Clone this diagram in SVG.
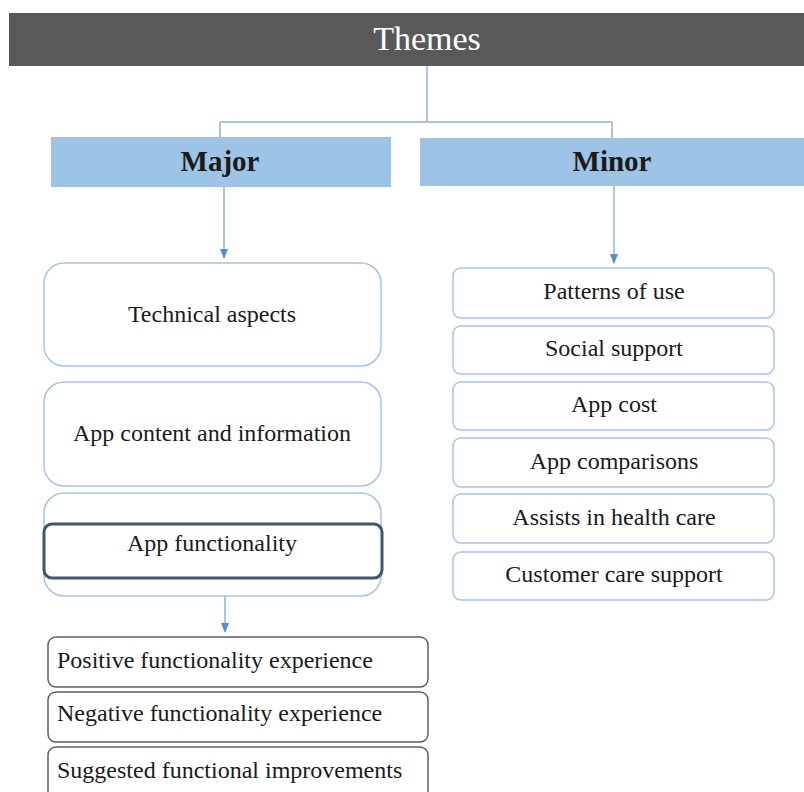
<svg xmlns="http://www.w3.org/2000/svg" width="804" height="792" viewBox="0 0 804 792">
<style>
text{font-family:"Liberation Serif","Times New Roman",serif;fill:#1a1a1a;font-size:24px}
.c{text-anchor:middle}
.title{fill:#ffffff;font-size:34px}
.hdr{font-weight:bold;font-size:29px}
.lb{fill:#ffffff;stroke:#a7c4e5;stroke-width:1.5}
.dk{fill:#ffffff;stroke:#5a5f66;stroke-width:1.5}
.con{fill:none;stroke:#8fb3d9;stroke-width:1.5}
</style>
<defs>
<marker id="ah" viewBox="0 0 10 10" refX="9" refY="5" markerWidth="7" markerHeight="7" orient="auto">
<path d="M0,1 L10,5 L0,9 z" fill="#5b8ec9"/>
</marker>
</defs>
<rect width="804" height="792" fill="#ffffff"/>
<g id="themes">
<rect x="9" y="13" width="795" height="53" fill="#595959"/>
<text class="c title" x="427" y="50">Themes</text>
</g>
<g id="connectors">
<path class="con" d="M427,66 V122 M220,122 H612 M220,122 V137 M612,122 V138"/>
<path class="con" d="M224,187 V258" marker-end="url(#ah)"/>
<path class="con" d="M614,186 V263" marker-end="url(#ah)"/>
<path class="con" d="M225,579 V632" marker-end="url(#ah)"/>
</g>
<g id="major">
<rect x="51" y="137" width="340" height="50" fill="#9dc3e6"/>
<text class="c hdr" x="220" y="171">Major</text>
</g>
<g id="minor">
<rect x="420" y="138" width="390" height="48" fill="#9dc3e6"/>
<text class="c hdr" x="612" y="171">Minor</text>
</g>
<g id="technical">
<rect class="lb" x="44" y="263" width="337" height="103" rx="20"/>
<text class="c" x="212" y="322">Technical aspects</text>
</g>
<g id="content">
<rect class="lb" x="44" y="382" width="337" height="104" rx="20"/>
<text class="c" x="212" y="441">App content and information</text>
</g>
<g id="functionality">
<rect class="lb" x="44" y="493" width="337" height="103" rx="20"/>
<rect x="44" y="524" width="338" height="54" rx="8" fill="#ffffff" stroke="#44546a" stroke-width="3"/>
<text class="c" x="212" y="551">App functionality</text>
</g>
<g id="positive">
<rect class="dk" x="48" y="637" width="380" height="50" rx="8"/>
<text x="57" y="668">Positive functionality experience</text>
</g>
<g id="negative">
<rect class="dk" x="48" y="692" width="380" height="50" rx="8"/>
<text x="57" y="721">Negative functionality experience</text>
</g>
<g id="suggested">
<rect class="dk" x="48" y="747" width="380" height="52" rx="8"/>
<text x="57" y="778">Suggested functional improvements</text>
</g>
<g id="patterns">
<rect class="lb" x="453" y="268" width="321" height="50" rx="8"/>
<text class="c" x="614" y="299">Patterns of use</text>
</g>
<g id="social">
<rect class="lb" x="453" y="326" width="321" height="48" rx="8"/>
<text class="c" x="614" y="356">Social support</text>
</g>
<g id="cost">
<rect class="lb" x="453" y="382" width="321" height="48" rx="8"/>
<text class="c" x="614" y="412">App cost</text>
</g>
<g id="comparisons">
<rect class="lb" x="453" y="438" width="321" height="49" rx="8"/>
<text class="c" x="614" y="469">App comparisons</text>
</g>
<g id="health">
<rect class="lb" x="453" y="494" width="321" height="49" rx="8"/>
<text class="c" x="614" y="525">Assists in health care</text>
</g>
<g id="customer">
<rect class="lb" x="453" y="552" width="321" height="48" rx="8"/>
<text class="c" x="614" y="582">Customer care support</text>
</g>
</svg>
